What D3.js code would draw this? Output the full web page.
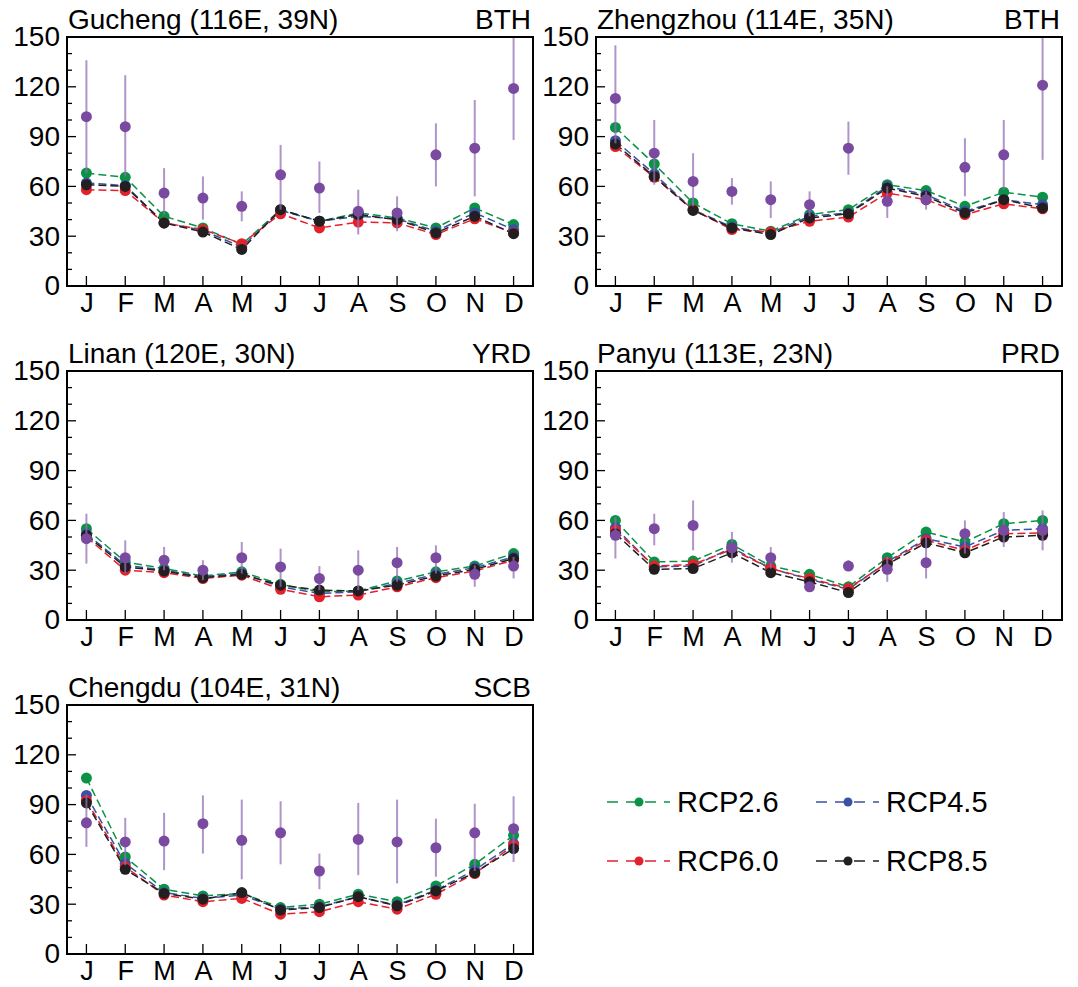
<!DOCTYPE html>
<html>
<head>
<meta charset="utf-8">
<script src="https://cdn.jsdelivr.net/npm/d3@7"></script>
<style>
  html, body { margin: 0; padding: 0; background: #fff; }
  svg { display: block; font-family: "Liberation Sans", Arial, Helvetica, sans-serif; }
</style>
</head>
<body>
<svg id="chart" width="1078" height="987"></svg>
<script>
// ---------------- DATA ----------------
const months = ["J","F","M","A","M","J","J","A","S","O","N","D"];
const yTicks = [0, 30, 60, 90, 120, 150];
const seriesNames = ["RCP2.6", "RCP4.5", "RCP6.0", "RCP8.5"];

const stationNames = ["Gucheng (116E, 39N)", "Zhengzhou (114E, 35N)", "Linan (120E, 30N)", "Panyu (113E, 23N)", "Chengdu (104E, 31N)"];
const regionNames = ["BTH", "BTH", "YRD", "PRD", "SCB"];

// Gucheng
const guchengObs   = [102, 96, 56, 53, 48, 67, 59, 45, 44, 79, 83, 119];
const guchengObsLo = [68, 66, 43, 40, 39, 46, 44, 31, 33, 60, 54, 88];
const guchengObsHi = [136, 127, 71, 66, 57, 85, 75, 58, 54, 98, 112, 155];
const guchengRCP26 = [68, 65.5, 42, 35, 25, 46, 39, 44, 41, 35, 47, 37];
const guchengRCP45 = [62, 60.5, 38, 33.5, 23.5, 45.5, 39, 42, 40.5, 33, 44, 34];
const guchengRCP60 = [58, 57.5, 38, 34, 25.5, 43.5, 35, 38.5, 38, 31, 40.5, 32];
const guchengRCP85 = [61, 60, 38, 32.5, 22, 46, 39, 43, 40, 32, 42, 31.5];

// Zhengzhou
const zhengzhouObs   = [113, 80, 63, 57, 52, 49, 83, 51, 52, 71.5, 79, 121];
const zhengzhouObsLo = [86, 61, 48, 49, 41, 42, 67, 41, 46, 54, 58, 76];
const zhengzhouObsHi = [145, 100, 80, 65, 63, 57, 99, 60, 57, 89, 100, 155];
const zhengzhouRCP26 = [95.5, 73.5, 50, 37.5, 33, 43, 46, 61, 57.5, 48, 56.5, 53.5];
const zhengzhouRCP45 = [87.5, 67.5, 46, 35.5, 32, 42, 44, 60, 55, 45, 52, 49];
const zhengzhouRCP60 = [84, 65.5, 46, 34, 32.5, 39, 41.5, 56, 52, 43, 49.5, 46.5];
const zhengzhouRCP85 = [85.5, 66, 45.5, 35, 31, 41, 43.5, 59, 54, 44, 52, 47];

// Linan
const linanObs   = [49, 37.5, 36, 30, 37.5, 32, 25, 30, 34.5, 37.5, 27.5, 32.5];
const linanObsLo = [34, 28, 30, 24, 28, 20, 18, 18, 23, 28, 20, 25];
const linanObsHi = [64, 48, 44, 36, 47, 43, 32.5, 42, 44, 45, 33, 38];
const linanRCP26 = [55, 35, 31, 26.5, 29, 21.5, 17, 17.5, 23.5, 29, 32.5, 40];
const linanRCP45 = [52, 33, 30, 26, 28, 20, 16, 17, 22, 27.5, 31.5, 38];
const linanRCP60 = [50, 30, 28.5, 25, 27, 18.5, 14, 15, 20, 25.5, 29.5, 36];
const linanRCP85 = [51, 32, 29.5, 25.5, 27.5, 21, 18, 17.5, 21, 26.5, 30.5, 37];

// Panyu
const panyuObs   = [51, 55, 57, 43.5, 37.5, 20, 32.5, 30.5, 34.5, 52, 54, 54];
const panyuObsLo = [37, 45, 42, 34.5, 31, 18, 29.5, 23, 25, 40, 44, 42];
const panyuObsHi = [62, 64, 72, 53, 44, 21.5, 36, 38, 50, 60, 65, 66];
const panyuRCP26 = [60, 35, 35.5, 45.5, 32.5, 27.5, 20, 37.5, 53, 47, 58, 60];
const panyuRCP45 = [55.5, 32, 32.5, 43.5, 31, 24.5, 18.5, 35, 49, 44, 54, 55];
const panyuRCP60 = [54, 32.5, 33.5, 42.5, 31, 25, 19, 34.5, 48, 42, 52, 52.5];
const panyuRCP85 = [52, 30.5, 31, 40.5, 28.5, 23, 16.5, 33.5, 46.5, 40.5, 50, 51];

// Chengdu
const chengduObs   = [79, 67.5, 68, 78.5, 68.5, 73, 50, 69, 67.5, 64, 73, 75.5];
const chengduObsLo = [64.5, 53.5, 50.5, 60.5, 45, 54, 39, 47.5, 42.5, 46.5, 50, 55.5];
const chengduObsHi = [96, 82, 85, 95.5, 93, 92, 60.5, 91, 93, 81.5, 90.5, 95];
const chengduRCP26 = [106, 58.5, 39, 35, 36.5, 28, 30, 36, 31.5, 41, 54, 71.5];
const chengduRCP45 = [95.5, 54.5, 37, 33.5, 35.5, 27, 28.5, 34.5, 29.5, 38.5, 50.5, 66.5];
const chengduRCP60 = [92.5, 52.5, 35.5, 31.5, 33.5, 24, 25.5, 31.5, 27, 36, 48.5, 65.5];
const chengduRCP85 = [91, 51, 36.5, 33, 37, 26.5, 28, 34.5, 29, 38, 49, 63.5];

// ---------------- BUILD ----------------
const stations = [
  {obs: guchengObs, lo: guchengObsLo, hi: guchengObsHi, rcp: [guchengRCP26, guchengRCP45, guchengRCP60, guchengRCP85]},
  {obs: zhengzhouObs, lo: zhengzhouObsLo, hi: zhengzhouObsHi, rcp: [zhengzhouRCP26, zhengzhouRCP45, zhengzhouRCP60, zhengzhouRCP85]},
  {obs: linanObs, lo: linanObsLo, hi: linanObsHi, rcp: [linanRCP26, linanRCP45, linanRCP60, linanRCP85]},
  {obs: panyuObs, lo: panyuObsLo, hi: panyuObsHi, rcp: [panyuRCP26, panyuRCP45, panyuRCP60, panyuRCP85]},
  {obs: chengduObs, lo: chengduObsLo, hi: chengduObsHi, rcp: [chengduRCP26, chengduRCP45, chengduRCP60, chengduRCP85]}
];

const colors = ["#0a9345", "#3a52a3", "#e4202c", "#231f20"];
const obsColor = "#7a4aa0";
const barColor = "#9470b8";

const svg = d3.select("#chart");
const panelW = 466, panelH = 249;
const colX = [67, 596];
const rowY = [37, 371, 705];
const FONT = "'Liberation Sans', Arial, sans-serif";

const x = d3.scalePoint().domain(d3.range(12)).range([0, panelW]).padding(0.5);
const y = d3.scaleLinear().domain([0, 150]).range([panelH, 0]);

stations.forEach((st, i) => {
  const g = svg.append("g")
    .attr("transform", `translate(${colX[i % 2]},${rowY[Math.floor(i / 2)]})`);

  const clipId = "clip" + i;
  g.append("clipPath").attr("id", clipId)
    .append("rect").attr("width", panelW).attr("height", panelH);

  // y ticks (inward, minor every 10)
  g.selectAll(".yminor").data(d3.range(0, 151, 10)).join("line")
    .attr("x1", 0).attr("x2", d => d % 30 === 0 ? 9 : 5)
    .attr("y1", d => y(d)).attr("y2", d => y(d))
    .attr("stroke", "#000").attr("stroke-width", 1.3);

  // y labels via axis
  const yAxis = d3.axisLeft(y).tickValues(yTicks).tickSize(0).tickPadding(7);
  const ya = g.append("g").call(yAxis);
  ya.select(".domain").remove();
  ya.selectAll("text").attr("font-size", 28).attr("fill", "#000").attr("font-family", FONT);

  // x labels + inward ticks
  const xAxis = d3.axisBottom(x).tickSize(0).tickPadding(7).tickFormat(d => months[d]);
  const xa = g.append("g").attr("transform", `translate(0,${panelH})`).call(xAxis);
  xa.select(".domain").remove();
  xa.selectAll("text").attr("font-size", 27).attr("fill", "#000").attr("font-family", FONT);
  g.selectAll(".xtick").data(d3.range(12)).join("line")
    .attr("x1", d => x(d)).attr("x2", d => x(d))
    .attr("y1", panelH).attr("y2", panelH - 10)
    .attr("stroke", "#000").attr("stroke-width", 1.3);

  const plot = g.append("g").attr("clip-path", `url(#${clipId})`);

  // RCP lines
  const line = d3.line().x((d, j) => x(j)).y(d => y(d));
  st.rcp.forEach((vals, k) => {
    plot.append("path").datum(vals)
      .attr("d", line)
      .attr("fill", "none")
      .attr("stroke", colors[k])
      .attr("stroke-width", 1.5)
      .attr("stroke-dasharray", "8,4");
  });
  st.rcp.forEach((vals, k) => {
    plot.selectAll(null).data(vals).join("circle")
      .attr("cx", (d, j) => x(j)).attr("cy", d => y(d))
      .attr("r", 5.5).attr("fill", colors[k]);
  });

  // observation error bars and dots
  plot.selectAll(null).data(st.obs).join("line")
    .attr("x1", (d, j) => x(j)).attr("x2", (d, j) => x(j))
    .attr("y1", (d, j) => y(st.lo[j])).attr("y2", (d, j) => y(st.hi[j]))
    .attr("stroke", barColor).attr("stroke-opacity", 0.75).attr("stroke-width", 2);
  plot.selectAll(null).data(st.obs).join("circle")
    .attr("cx", (d, j) => x(j)).attr("cy", d => y(d))
    .attr("r", 5.5).attr("fill", obsColor);

  // frame
  g.append("rect").attr("width", panelW).attr("height", panelH)
    .attr("fill", "none").attr("stroke", "#000").attr("stroke-width", 2);

  // titles
  g.append("text").attr("x", 1).attr("y", -8)
    .attr("font-size", 28).attr("fill", "#000").attr("font-family", FONT)
    .text(stationNames[i]);
  g.append("text").attr("x", panelW - 2).attr("y", -8)
    .attr("text-anchor", "end")
    .attr("font-size", 28).attr("fill", "#000").attr("font-family", FONT)
    .text(regionNames[i]);
});

// ---------------- LEGEND ----------------
const legendPos = [[607, 802], [816, 802], [607, 861], [816, 861]];
const legend = svg.append("g");
seriesNames.forEach((name, k) => {
  const [lx, ly] = legendPos[k];
  const lg = legend.append("g").attr("transform", `translate(${lx},${ly})`);
  lg.append("line").attr("x1", 0).attr("x2", 63).attr("y1", 0).attr("y2", 0)
    .attr("stroke", colors[k]).attr("stroke-width", 1.5)
    .attr("stroke-dasharray", "11,8");
  lg.append("circle").attr("cx", 32).attr("cy", 0).attr("r", 4.5).attr("fill", colors[k]);
  lg.append("text").attr("x", 70).attr("y", 0).attr("dy", "0.35em")
    .attr("font-size", 29).attr("fill", "#000").attr("font-family", FONT).text(name);
});
</script>
</body>
</html>
